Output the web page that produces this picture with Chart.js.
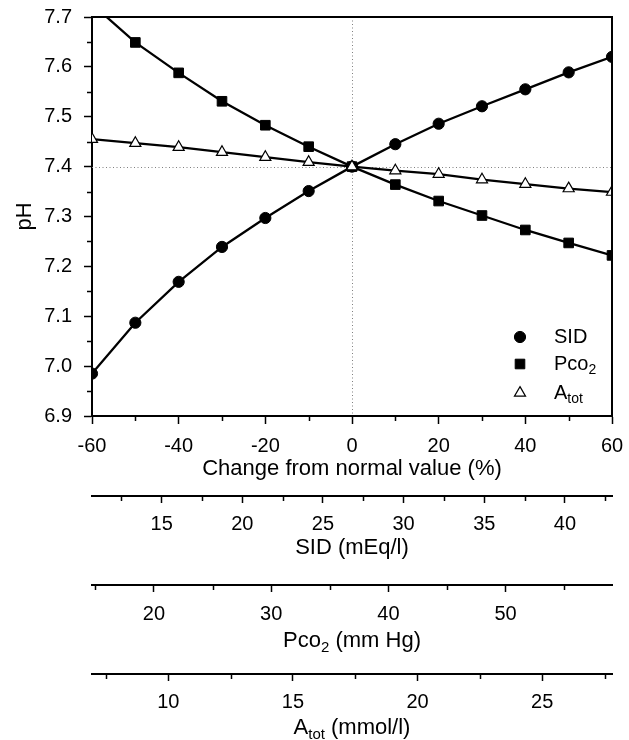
<!DOCTYPE html>
<html>
<head>
<meta charset="utf-8">
<title>pH vs change from normal value</title>
<script src="https://cdn.jsdelivr.net/npm/chart.js@4.4.0/dist/chart.umd.min.js"></script>
<style>
  html, body { margin: 0; padding: 0; background: #fff; }
  #wrap { width: 629px; height: 740px; }
</style>
</head>
<body>
<div id="wrap"><canvas id="phChart"></canvas></div>
<script>
// values
const changePct = [-60, -50, -40, -30, -20, -10, 0, 10, 20, 30, 40, 50, 60];
const sidPH  = [6.985, 7.087, 7.169, 7.239, 7.297, 7.351, 7.400, 7.445, 7.486, 7.521, 7.555, 7.589, 7.620];
const pco2PH = [7.726, 7.649, 7.588, 7.531, 7.483, 7.440, 7.400, 7.364, 7.331, 7.302, 7.273, 7.247, 7.222];
const atotPH = [7.455, 7.447, 7.439, 7.429, 7.419, 7.409, 7.400, 7.392, 7.385, 7.374, 7.365, 7.356, 7.349];

const refChange = 0;
const refPH = 7.4;

// axis ticks
const xMajor = [-60, -40, -20, 0, 20, 40, 60];
const xMinor = [-50, -30, -10, 10, 30, 50];
const yMajor = [6.9, 7.0, 7.1, 7.2, 7.3, 7.4, 7.5, 7.6, 7.7];
const yMinor = [6.95, 7.05, 7.15, 7.25, 7.35, 7.45, 7.55, 7.65];
const sidRange = [10.68, 42.92];
const sidMajor = [15, 20, 25, 30, 35, 40];
const sidMinor = [12.5, 17.5, 22.5, 27.5, 32.5, 37.5, 42.5];
const pco2Range = [14.71, 59.08];
const pco2Major = [20, 30, 40, 50];
const pco2Minor = [15, 25, 35, 45, 55];
const atotRange = [6.94, 27.80];
const atotMajor = [10, 15, 20, 25];
const atotMinor = [7.5, 12.5, 17.5, 22.5, 27.5];

// text pieces, {sub:true} marks a subscript
const legendLabels = [
  [{ t: 'SID' }],
  [{ t: 'Pco' }, { t: '2', sub: true }],
  [{ t: 'A' }, { t: 'tot', sub: true }]
];
const pco2Title = [{ t: 'Pco' }, { t: '2', sub: true }, { t: ' (mm Hg)' }];
const atotTitle = [{ t: 'A' }, { t: 'tot', sub: true }, { t: ' (mmol/l)' }];

const FONT = "'Liberation Sans', Arial, sans-serif";
Chart.defaults.font.family = FONT;
Chart.defaults.color = '#000';

function toXY(ys) {
  return changePct.map((x, i) => ({ x: x, y: ys[i] }));
}

function setTicks(values) {
  return function(scale) {
    scale.ticks = values.map(v => ({ value: v }));
  };
}

function fixHeight(h) {
  return function(scale) {
    scale.height = h;
    scale.paddingLeft = 0;
    scale.paddingRight = 0;
  };
}

function bottomAxis(range, major, height, pad, title) {
  return {
    type: 'linear',
    position: 'bottom',
    min: range[0],
    max: range[1],
    afterBuildTicks: setTicks(major),
    afterFit: fixHeight(height),
    grid: { drawOnChartArea: false, color: '#000', tickLength: 7, tickWidth: 1.5 },
    border: { color: '#000', width: 2 },
    ticks: { font: { size: 20 }, padding: pad, maxRotation: 0, autoSkip: false },
    title: title
  };
}

function piecesWidth(ctx, pieces) {
  let w = 0;
  pieces.forEach(p => {
    ctx.font = (p.sub ? 15 : 22) + 'px ' + FONT;
    w += ctx.measureText(p.t).width;
  });
  return w;
}

function drawPieces(ctx, pieces, x, y, size) {
  ctx.textBaseline = 'middle';
  ctx.textAlign = 'left';
  pieces.forEach(p => {
    const s = p.sub ? Math.round(size * 0.68) : size;
    ctx.font = s + 'px ' + FONT;
    ctx.fillText(p.t, x, p.sub ? y + size * 0.32 : y);
    x += ctx.measureText(p.t).width;
  });
}

const decorations = {
  id: 'decorations',
  beforeDatasetsDraw(chart) {
    const { ctx, chartArea: a, scales } = chart;
    const x0 = scales.x.getPixelForValue(refChange);
    const y0 = scales.y.getPixelForValue(refPH);
    ctx.save();
    ctx.strokeStyle = '#808080';
    ctx.lineWidth = 1;
    ctx.setLineDash([1, 2.5]);
    ctx.beginPath();
    ctx.moveTo(Math.round(x0) + 0.5, a.top);
    ctx.lineTo(Math.round(x0) + 0.5, a.bottom);
    ctx.moveTo(a.left, Math.round(y0) + 0.5);
    ctx.lineTo(a.right, Math.round(y0) + 0.5);
    ctx.stroke();
    ctx.restore();
  },
  afterDraw(chart) {
    const { ctx, chartArea: a, scales } = chart;
    ctx.save();

    // frame on top and right
    ctx.strokeStyle = '#000';
    ctx.lineWidth = 2;
    ctx.beginPath();
    ctx.moveTo(a.left, a.top);
    ctx.lineTo(a.right, a.top);
    ctx.lineTo(a.right, a.bottom);
    ctx.stroke();

    // minor ticks
    ctx.lineWidth = 1.5;
    ctx.beginPath();
    [['x', xMinor], ['sid', sidMinor], ['pco2', pco2Minor], ['atot', atotMinor]].forEach(([id, vals]) => {
      const s = scales[id];
      vals.forEach(v => {
        const px = Math.round(s.getPixelForValue(v)) + 0.5;
        ctx.moveTo(px, s.top);
        ctx.lineTo(px, s.top + 5);
      });
    });
    yMinor.forEach(v => {
      const py = Math.round(scales.y.getPixelForValue(v)) + 0.5;
      ctx.moveTo(scales.y.right, py);
      ctx.lineTo(scales.y.right - 5, py);
    });
    ctx.stroke();

    // axis titles with subscripts
    ctx.fillStyle = '#000';
    const cx = (a.left + a.right) / 2;
    drawPieces(ctx, pco2Title, cx - piecesWidth(ctx, pco2Title) / 2, scales.pco2.top + 56, 22);
    drawPieces(ctx, atotTitle, cx - piecesWidth(ctx, atotTitle) / 2, scales.atot.top + 54, 22);

    // legend
    const rows = [a.bottom - 79, a.bottom - 52, a.bottom - 23];
    chart.data.datasets.forEach((ds, i) => {
      const y = rows[i];
      const x = a.right - 92;
      ctx.fillStyle = ds.pointBackgroundColor;
      ctx.strokeStyle = ds.pointBorderColor;
      ctx.lineWidth = ds.pointBorderWidth;
      Chart.helpers.drawPoint(ctx, {
        pointStyle: ds.pointStyle,
        radius: ds.pointRadius,
        rotation: 0,
        borderWidth: ds.pointBorderWidth
      }, x, y);
      ctx.fillStyle = '#000';
      drawPieces(ctx, legendLabels[i], a.right - 58, y, 20);
    });

    ctx.restore();
  }
};

new Chart(document.getElementById('phChart'), {
  type: 'line',
  data: {
    datasets: [
      {
        label: 'SID',
        data: toXY(sidPH),
        borderColor: '#000',
        borderWidth: 2.3,
        pointStyle: 'circle',
        pointRadius: 5.6,
        pointBackgroundColor: '#000',
        pointBorderColor: '#000',
        pointBorderWidth: 1,
        order: 3
      },
      {
        label: 'Pco2',
        data: toXY(pco2PH),
        borderColor: '#000',
        borderWidth: 2.3,
        pointStyle: 'rect',
        pointRadius: 6.8,
        pointBackgroundColor: '#000',
        pointBorderColor: '#000',
        pointBorderWidth: 1,
        order: 2
      },
      {
        label: 'Atot',
        data: toXY(atotPH),
        borderColor: '#000',
        borderWidth: 2.3,
        pointStyle: 'triangle',
        pointRadius: 6.4,
        pointBackgroundColor: '#fff',
        pointBorderColor: '#000',
        pointBorderWidth: 1.2,
        order: 1
      }
    ]
  },
  options: {
    responsive: true,
    maintainAspectRatio: false,
    animation: false,
    layout: { padding: { top: 17, right: 17, bottom: 0, left: 0 } },
    plugins: {
      legend: { display: false },
      tooltip: { enabled: false }
    },
    scales: {
      x: {
        type: 'linear',
        position: 'bottom',
        min: -60,
        max: 60,
        afterBuildTicks: setTicks(xMajor),
        afterFit: fixHeight(80),
        grid: { drawOnChartArea: false, color: '#000', tickLength: 8, tickWidth: 1.5 },
        border: { color: '#000', width: 2 },
        ticks: { font: { size: 20 }, padding: 10, maxRotation: 0, autoSkip: false },
        title: {
          display: true,
          text: 'Change from normal value (%)',
          font: { size: 22 },
          padding: { top: 0, bottom: 14 }
        }
      },
      sid: bottomAxis(sidRange, sidMajor, 89, 9, {
        display: true,
        text: 'SID (mEq/l)',
        font: { size: 22 },
        padding: { top: 0, bottom: 24 }
      }),
      pco2: bottomAxis(pco2Range, pco2Major, 89, 10, { display: false }),
      atot: bottomAxis(atotRange, atotMajor, 66, 9, { display: false }),
      y: {
        type: 'linear',
        position: 'left',
        min: 6.9,
        max: 7.7,
        afterBuildTicks: setTicks(yMajor),
        afterFit: function(scale) {
          scale.width = 92;
          scale.paddingTop = 0;
          scale.paddingBottom = 0;
        },
        grid: { drawOnChartArea: false, color: '#000', tickLength: 8, tickWidth: 1.5 },
        border: { color: '#000', width: 2 },
        ticks: {
          font: { size: 20 },
          padding: 12,
          callback: v => v.toFixed(1)
        },
        title: {
          display: true,
          text: 'pH',
          font: { size: 22 },
          padding: { top: 12, bottom: 0 }
        }
      }
    }
  },
  plugins: [decorations]
});
</script>
</body>
</html>
